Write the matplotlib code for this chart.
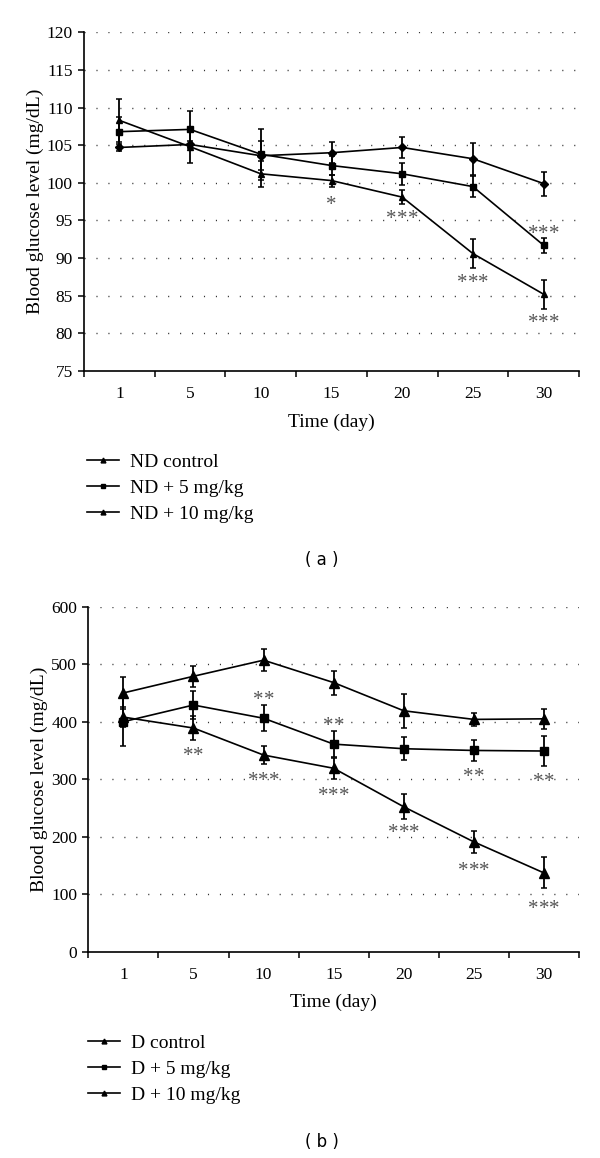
import numpy as np
import matplotlib
matplotlib.use("Agg")
import matplotlib.pyplot as plt
from matplotlib.lines import Line2D
from matplotlib.transforms import offset_copy

plt.rcParams['font.family'] = ['Liberation Serif', 'DejaVu Serif']

# x categories (days)
days = ['1', '5', '10', '15', '20', '25', '30']

# (a) non-diabetic groups, mean and error
nd_control = [104.7, 105.1, 103.6, 104.0, 104.7, 103.2, 99.9]
nd_control_err = [0.5, 0.4, 1.9, 1.4, 1.4, 2.1, 1.6]
nd_5 = [106.8, 107.1, 103.8, 102.3, 101.2, 99.5, 91.7]
nd_5_err = [2.0, 2.5, 3.4, 1.2, 1.5, 1.4, 1.0]
nd_10 = [108.3, 104.8, 101.2, 100.3, 98.1, 90.6, 85.2]
nd_10_err = [2.9, 2.1, 1.7, 0.8, 0.9, 1.9, 1.9]

# (b) diabetic groups
d_control = [450, 479, 507, 468, 419, 404, 405]
d_control_err = [28, 18, 19, 21, 30, 12, 17]
d_5 = [400, 429, 406, 361, 353, 350, 349]
d_5_err = [42, 24, 23, 23, 20, 19, 26]
d_10 = [408, 389, 342, 319, 252, 191, 137]
d_10_err = [17, 21, 16, 18, 22, 19, 27]

# significance marks: day index, y value, text
stars_a_x = [3, 4, 5, 6, 6]
stars_a_y = [97.9, 96.0, 87.5, 94.0, 82.3]
stars_a_txt = ['*', '***', '***', '***', '***']

stars_b_x = [1, 2, 2, 3, 3, 4, 5, 5, 6, 6]
stars_b_y = [352, 449, 308, 404, 282, 217, 315, 151, 306, 85]
stars_b_txt = ['**', '**', '***', '**', '***', '***', '**', '***', '**', '***']

labels_a = ['ND control', 'ND + 5 mg/kg', 'ND + 10 mg/kg']
labels_b = ['D control', 'D + 5 mg/kg', 'D + 10 mg/kg']

W, H = 600, 1158
fig = plt.figure(figsize=(W / 100, H / 100), dpi=100)


def px_axes(left, right, top, bottom):
    return fig.add_axes([left / W, 1 - bottom / H, (right - left) / W, (bottom - top) / H])


def style_axes(ax, ymin, ymax, ystep):
    x = np.arange(len(days))
    ax.set_xlim(-0.5, len(days) - 0.5)
    ax.set_ylim(ymin, ymax)
    yt = np.arange(ymin, ymax + ystep / 2, ystep)
    ax.set_yticks(yt)
    ax.set_yticklabels([str(int(v)) for v in yt], fontsize=12.5)
    for v in yt[1:]:
        ax.axhline(v, color='#333333', lw=1.0, ls=(0, (0.8, 7.8)), zorder=0)
    ax.set_xticks(np.arange(-0.5, len(days), 1.0))
    ax.set_xticklabels([])
    ax.set_xticks(x, minor=True)
    ax.set_xticklabels(days, minor=True, fontsize=12.5)
    ax.tick_params(axis='x', which='minor', length=0, pad=11)
    ax.tick_params(axis='x', which='major', length=4, width=1.1, direction='out')
    ax.tick_params(axis='y', length=4, width=1.1, direction='out', pad=4)
    for s in ['top', 'right']:
        ax.spines[s].set_visible(False)
    for s in ['left', 'bottom']:
        ax.spines[s].set_linewidth(1.2)
    ax.set_xlabel('Time (day)', fontsize=14, labelpad=8)
    ax.set_ylabel('Blood glucose level (mg/dL)', fontsize=14, labelpad=2)


def series(ax, y, err, marker, ms):
    ax.errorbar(np.arange(len(days)), y, yerr=err, color='black', lw=1.2,
                marker=marker, ms=ms, capsize=2.2, elinewidth=1.3, capthick=1.1)


def stars(ax, xs, ys, txts):
    # each asterisk drawn on its own so the spacing matches the figure;
    # asterisks sit high in the font, so anchor at baseline and shift down
    fs = 15
    gap = 7.6  # points between star centres
    for x, y, t in zip(xs, ys, txts):
        n = len(t)
        for i in range(n):
            tr = offset_copy(ax.transData, fig=fig, x=(i - (n - 1) / 2) * gap,
                             y=-0.55 * fs, units='points')
            ax.text(x, y, '*', ha='center', va='baseline', fontsize=fs,
                    color='#555555', transform=tr)


def legend(labels, markers, x0, y0):
    handles = [Line2D([], [], color='black', lw=1.2, marker=m, ms=ms)
               for m, ms in markers]
    fig.legend(handles, labels, loc='upper left', bbox_to_anchor=(x0 / W, 1 - y0 / H),
               frameon=False, fontsize=14, handlelength=1.65, handletextpad=0.55,
               labelspacing=0.44, borderpad=0, borderaxespad=0)


# (a)
ax1 = px_axes(84, 579, 32.3, 371)
series(ax1, nd_control, nd_control_err, 'D', 4.5)
series(ax1, nd_5, nd_5_err, 's', 4.5)
series(ax1, nd_10, nd_10_err, '^', 5)
stars(ax1, stars_a_x, stars_a_y, stars_a_txt)
style_axes(ax1, 75, 120, 5)
legend(labels_a, [('^', 3.5), ('s', 3.5), ('^', 3.5)], 87, 453)
fig.text(322 / W, 1 - 560 / H, '( a )', family='DejaVu Sans', fontsize=12,
         ha='center', va='center')

# (b)
ax2 = px_axes(88.3, 579, 606.7, 951.7)
series(ax2, d_control, d_control_err, '^', 7)
series(ax2, d_5, d_5_err, 's', 5.5)
series(ax2, d_10, d_10_err, '^', 7)
stars(ax2, stars_b_x, stars_b_y, stars_b_txt)
style_axes(ax2, 0, 600, 100)
legend(labels_b, [('^', 3.5), ('s', 3.5), ('^', 3.5)], 88, 1034)
fig.text(322 / W, 1 - 1141.7 / H, '( b )', family='DejaVu Sans', fontsize=12,
         ha='center', va='center')

fig.savefig('out.png', dpi=100)
